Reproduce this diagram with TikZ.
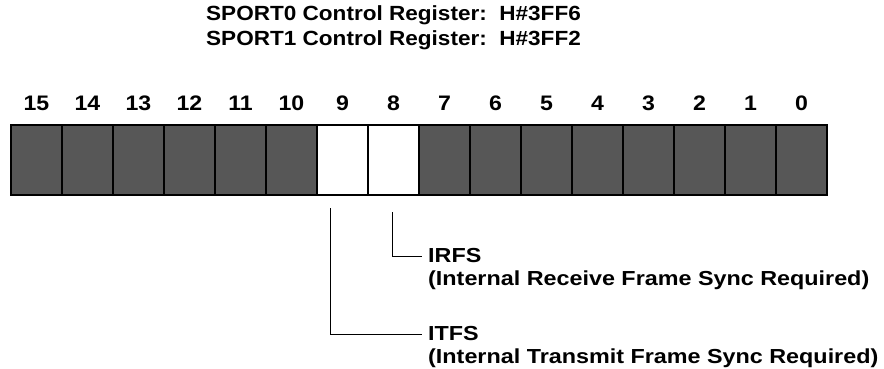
\documentclass[tikz,border=0pt]{standalone}
\usepackage{fontspec}
\setmainfont{Liberation Sans}[FakeStretch=1.1]
\newfontfamily\widefont{Liberation Sans}[FakeStretch=1.15]
\usetikzlibrary{positioning}

\tikzset{
  regbit/.style={draw=black, line width=1.4pt, fill=black!66, minimum width=51pt, minimum height=70pt, inner sep=0pt, outer sep=0pt, anchor=north west},
  setbit/.style={regbit, fill=white},
  bitnum/.style={font=\fontsize{21}{23}\selectfont\bfseries, inner sep=0pt},
  title/.style={font=\fontsize{20.5}{23}\selectfont\bfseries, inner sep=0pt, anchor=west},
  desc/.style={font=\widefont\fontsize{20.3}{23}\selectfont\bfseries, inner sep=0pt, anchor=west}
}

\begin{document}
\begin{tikzpicture}[x=1pt, y=-1pt]
                \useasboundingbox (0,0) rectangle (884,369);

                \node [title] (title0) at (206,15) {SPORT0 Control Register:\ \ H\#3FF6};
                \node [title] (title1) at (206,40) {SPORT1 Control Register:\ \ H\#3FF2};

                % register cells
                \foreach \b in {0,...,15} {
                    \pgfmathtruncatemacro{\col}{15-\b}
                    \ifnum\b=8 \def\sty{setbit}\else\ifnum\b=9 \def\sty{setbit}\else\def\sty{regbit}\fi\fi
                    \node [\sty] (b\b) at (11+51*\col,125) {};
                    \node [bitnum, above=14pt of b\b] (n\b) {\b};
                }
                \draw [line width=2.2pt] (b15.north west) rectangle (b0.south east);

                \node [desc] (irfs) at (428,256) {IRFS};
                \node [desc, below=7pt of irfs.south west, anchor=north west] (irfsd) {(Internal Receive Frame Sync Required)};
                \node [desc] (itfs) at (428,334) {ITFS};
                \node [desc, below=7pt of itfs.south west, anchor=north west] (itfsd) {(Internal Transmit Frame Sync Required)};

                % bit pointers
                \draw [line width=1pt] (b8.south) ++(-1,17) |- ([xshift=-6pt]irfs.west);
                \draw [line width=1pt] (b9.south) ++(-12,13) |- ([xshift=-6pt]itfs.west);
            \end{tikzpicture}
\end{document}
